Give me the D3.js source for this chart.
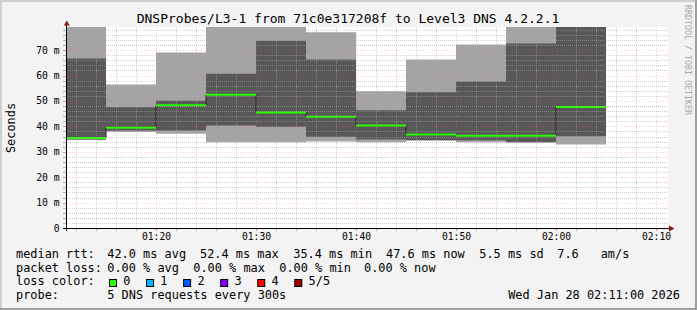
<!DOCTYPE html>
<html>
<head>
<meta charset="utf-8">
<script src="https://cdn.jsdelivr.net/npm/d3@7"></script>
<style>
  body { margin: 0; background: #f3f3f3; }
  text { font-family: "DejaVu Sans Mono", monospace; fill: #000; }
</style>
</head>
<body>
<div id="chart"></div>
<script>
// time window and 5 minute bins (bin end times)
var startTime = "01:11", endTime = "02:11";
var binEnds = ["01:15", "01:20", "01:25", "01:30", "01:35", "01:40", "01:45", "01:50", "01:55", "02:00", "02:05"];

// sorted ping values per bin, in ms (5 pings)
var ping1 = [34.7, 37.8, 37.1, 33.7, 33.7, 34.0, 33.7, 34.4, 33.7, 33.6, 32.9];
var ping2 = [34.8, 38.4, 38.4, 40.3, 39.8, 35.9, 34.8, 34.5, 34.5, 33.7, 36.1];
var median = [35.4, 39.5, 48.3, 52.4, 45.5, 43.8, 40.3, 36.8, 36.3, 36.3, 47.6];
var ping4 = [66.7, 47.5, 50.1, 60.7, 73.7, 66.3, 46.3, 53.4, 57.7, 72.6, 82.0];
var ping5 = [82.0, 56.5, 69.1, 84.0, 83.0, 77.0, 53.8, 66.3, 72.2, 84.0, 85.0];

var yTicks = [0, 10, 20, 30, 40, 50, 60, 70];
var lossLabels = ["0", "1", "2", "3", "4", "5/5"];
var lossColors = ["#26ff00", "#00b8ff", "#0059ff", "#7e00ff", "#ff0000", "#a10000"];

var W = 697, H = 310;
var parseT = d3.timeParse("%H:%M");

var svg = d3.select("#chart").append("svg")
    .attr("width", W)
    .attr("height", H);

// frame
svg.append("rect").attr("width", W).attr("height", H).attr("fill", "#f3f3f3");
svg.append("path").attr("d", "M0,0H" + W + "V2H2V" + H + "H0Z").attr("fill", "#cfcfcf");
svg.append("path").attr("d", "M" + W + "," + H + "H0V" + (H - 2) + "H" + (W - 2) + "V0H" + W + "Z").attr("fill", "#9e9e9e");

var x = d3.scaleTime().domain([parseT(startTime), parseT(endTime)]).range([66, 666]);
var y = d3.scaleLinear().domain([0, 79.1]).range([228, 27]);

// plot background
svg.append("rect").attr("x", 66).attr("y", 27).attr("width", 602).attr("height", 201).attr("fill", "#fff");

svg.append("clipPath").attr("id", "plotclip")
    .append("rect").attr("x", 66).attr("y", 27).attr("width", 602).attr("height", 201);

// build step data
var data = binEnds.map(function (t, i) {
    var e = parseT(t);
    return { t: d3.timeMinute.offset(e, -5), p1: ping1[i], p2: ping2[i], med: median[i], p4: ping4[i], p5: ping5[i] };
});
var last = data[data.length - 1];
var stepData = data.concat([Object.assign({}, last, { t: parseT(binEnds[binEnds.length - 1]) })]);

var plot = svg.append("g").attr("clip-path", "url(#plotclip)");

var outer = d3.area().curve(d3.curveStepAfter)
    .x(function (d) { return x(d.t); })
    .y0(function (d) { return y(d.p1); })
    .y1(function (d) { return y(d.p5); });
var inner = d3.area().curve(d3.curveStepAfter)
    .x(function (d) { return x(d.t); })
    .y0(function (d) { return y(d.p2); })
    .y1(function (d) { return y(d.p4); });

plot.append("path").attr("d", outer(stepData)).attr("fill", "#a4a4a4");
plot.append("path").attr("d", inner(stepData)).attr("fill", "#585858");

// grid (drawn over the smoke like rrdtool)
var minorCol = "rgba(170,170,170,0.55)", majorCol = "rgba(255,80,80,0.32)";
var grid = svg.append("g");
var minorY = d3.range(2, 79, 2).filter(function (v) { return v % 10 !== 0; });
grid.selectAll(".hmin").data(minorY).enter().append("line")
    .attr("x1", 66).attr("x2", 668)
    .attr("y1", function (d) { return Math.round(y(d)) + 0.5; })
    .attr("y2", function (d) { return Math.round(y(d)) + 0.5; })
    .attr("stroke", minorCol).attr("stroke-dasharray", "1,1");
grid.selectAll(".hmaj").data(yTicks.slice(1)).enter().append("line")
    .attr("x1", 66).attr("x2", 668)
    .attr("y1", function (d) { return Math.round(y(d)) + 0.5; })
    .attr("y2", function (d) { return Math.round(y(d)) + 0.5; })
    .attr("stroke", majorCol).attr("stroke-dasharray", "1,2");

var minorX = x.ticks(d3.timeMinute.every(2)).filter(function (d) { return d.getMinutes() % 10 !== 0; });
var majorX = x.ticks(d3.timeMinute.every(10));
grid.selectAll(".vmin").data(minorX).enter().append("line")
    .attr("x1", function (d) { return Math.round(x(d)) + 0.5; })
    .attr("x2", function (d) { return Math.round(x(d)) + 0.5; })
    .attr("y1", 27).attr("y2", 228)
    .attr("stroke", minorCol).attr("stroke-dasharray", "1,1");
grid.selectAll(".vmaj").data(majorX).enter().append("line")
    .attr("x1", function (d) { return Math.round(x(d)) + 0.5; })
    .attr("x2", function (d) { return Math.round(x(d)) + 0.5; })
    .attr("y1", 27).attr("y2", 228)
    .attr("stroke", majorCol).attr("stroke-dasharray", "1,2");

// small ticks outside the plot
grid.selectAll(".ytk").data(minorY.concat(yTicks)).enter().append("line")
    .attr("x1", 63).attr("x2", 66)
    .attr("y1", function (d) { return Math.round(y(d)) + 0.5; })
    .attr("y2", function (d) { return Math.round(y(d)) + 0.5; })
    .attr("stroke", function (d) { return d % 10 === 0 ? "rgba(255,60,60,0.6)" : "rgba(150,150,150,0.7)"; });
grid.selectAll(".xtk").data(minorX.concat(majorX)).enter().append("line")
    .attr("x1", function (d) { return Math.round(x(d)) + 0.5; })
    .attr("x2", function (d) { return Math.round(x(d)) + 0.5; })
    .attr("y1", 229).attr("y2", 231)
    .attr("stroke", function (d) { return d.getMinutes() % 10 === 0 ? "rgba(255,60,60,0.6)" : "rgba(150,150,150,0.7)"; });

// median line: thin dark step line, then loss-coloured segments
var medLine = d3.line().curve(d3.curveStepAfter)
    .x(function (d) { return x(d.t); })
    .y(function (d) { return y(d.med); });
plot.append("path").attr("d", medLine(stepData)).attr("fill", "none").attr("stroke", "#202020").attr("stroke-width", 1);
plot.selectAll(".seg").data(data).enter().append("line")
    .attr("x1", function (d) { return x(d.t); })
    .attr("x2", function (d) { return x(d3.timeMinute.offset(d.t, 5)); })
    .attr("y1", function (d) { return y(d.med); })
    .attr("y2", function (d) { return y(d.med); })
    .attr("stroke", lossColors[0]).attr("stroke-width", 2);

// axes
svg.append("line").attr("x1", 63).attr("x2", 670).attr("y1", 228.5).attr("y2", 228.5).attr("stroke", "#000");
svg.append("line").attr("x1", 66.5).attr("x2", 66.5).attr("y1", 231).attr("y2", 24).attr("stroke", "#000");
svg.append("path").attr("d", "M66.8,20.5L69.8,25.5L63.8,25.5Z").attr("fill", "#8b1a1a");
svg.append("path").attr("d", "M674.5,228.5L669,225.5L669,231.5Z").attr("fill", "#8b1a1a");

// y labels
svg.selectAll(".ylab").data(yTicks).enter().append("text")
    .attr("x", 59.5)
    .attr("y", function (d) { return y(d) + 3.5; })
    .attr("text-anchor", "end")
    .style("font-size", "9.7px")
    .text(function (d) { return d === 0 ? "0" : d + " m"; });

// x labels
var fmt = d3.timeFormat("%H:%M");
svg.selectAll(".xlab").data(majorX).enter().append("text")
    .attr("x", function (d) { return x(d) + 0.5; })
    .attr("y", 240)
    .attr("text-anchor", "middle")
    .style("font-size", "9.7px")
    .text(function (d) { return fmt(d); });

// title
svg.append("text").attr("x", 348).attr("y", 23)
    .attr("text-anchor", "middle")
    .style("font-size", "13px")
    .text("DNSProbes/L3-1 from 71c0e317208f to Level3 DNS 4.2.2.1");

// vertical axis title
svg.append("text")
    .attr("transform", "translate(15,128) rotate(-90)")
    .attr("text-anchor", "middle")
    .style("font-size", "11.9px")
    .text("Seconds");

// watermark
svg.append("text")
    .attr("transform", "translate(685,5) rotate(90)")
    .style("font-size", "8.3px")
    .style("fill", "#a8a8a8")
    .text("RRDTOOL / TOBI OETIKER");

// legend
var fs = "11.9px";
function legendText(tx, ty, s, anchor) {
    svg.append("text").attr("x", tx).attr("y", ty)
        .attr("text-anchor", anchor || "start")
        .style("font-size", fs)
        .style("white-space", "pre")
        .text(s);
}
legendText(16, 258, "median rtt:");
legendText(107.3, 258, "42.0 ms avg");
legendText(200, 258, "52.4 ms max");
legendText(293.3, 258, "35.4 ms min");
legendText(386, 258, "47.6 ms now");
legendText(479.3, 258, "5.5 ms sd");
legendText(557.3, 258, "7.6");
legendText(600.7, 258, "am/s");

legendText(16, 271.5, "packet loss:");
legendText(107.3, 271.5, "0.00 % avg");
legendText(193.3, 271.5, "0.00 % max");
legendText(279.3, 271.5, "0.00 % min");
legendText(364, 271.5, "0.00 % now");

legendText(16, 285.3, "loss color:");
var lg = svg.selectAll(".lc").data(lossLabels).enter().append("g")
    .attr("transform", function (d, i) { return "translate(" + (109 + i * 37.06) + ",0)"; });
lg.append("rect").attr("x", 0.5).attr("y", 279.5).attr("width", 7).attr("height", 7)
    .attr("fill", function (d, i) { return lossColors[i]; })
    .attr("stroke", "#000");
lg.append("text").attr("x", 14.3).attr("y", 285.3)
    .style("font-size", fs)
    .text(function (d) { return d; });

legendText(16, 299, "probe:");
legendText(107.3, 299, "5 DNS requests every 300s");
legendText(680, 299, "Wed Jan 28 02:11:00 2026", "end");
</script>
</body>
</html>
